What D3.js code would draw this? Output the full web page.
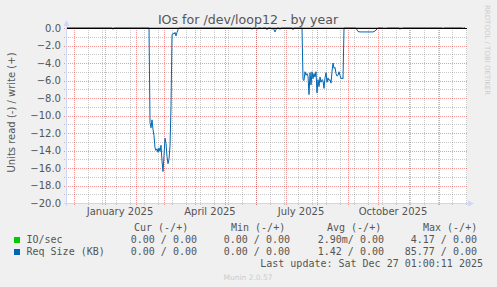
<!DOCTYPE html>
<html>
<head>
<meta charset="utf-8">
<script src="https://d3js.org/d3.v7.min.js"></script>
<style>
body{margin:0;background:#f0f0f0;}
svg{display:block;}
</style>
</head>
<body>
<svg id="chart" width="497" height="287"></svg>
<script>
// data (read side shown as negative)
const reqDates = ["2024-11-24","2025-01-08","2025-01-09","2025-01-10","2025-02-14","2025-02-15","2025-02-16","2025-02-17","2025-02-18","2025-02-19","2025-02-20","2025-02-21","2025-02-22","2025-02-23","2025-02-24","2025-02-25","2025-02-26","2025-02-27","2025-02-28","2025-03-01","2025-03-02","2025-03-03","2025-03-04","2025-03-05","2025-03-06","2025-03-07","2025-03-08","2025-03-09","2025-03-10","2025-03-11","2025-03-12","2025-03-13","2025-03-14","2025-03-15","2025-03-16",
"2025-05-27","2025-05-28","2025-05-29","2025-06-01","2025-06-02","2025-06-03","2025-06-06","2025-06-07","2025-06-08","2025-06-11","2025-06-12","2025-06-13","2025-06-16","2025-06-17","2025-06-18","2025-06-19","2025-06-20","2025-06-21","2025-06-22","2025-06-24","2025-06-25","2025-06-26","2025-07-07","2025-07-08","2025-07-09",
"2025-07-17","2025-07-18","2025-07-19","2025-07-20","2025-07-21","2025-07-22","2025-07-23","2025-07-24","2025-07-25","2025-07-26","2025-07-27","2025-07-28","2025-07-29","2025-07-30","2025-07-31","2025-08-01","2025-08-02","2025-08-03","2025-08-04","2025-08-05","2025-08-06","2025-08-07","2025-08-08","2025-08-09","2025-08-10","2025-08-11","2025-08-12","2025-08-13","2025-08-14","2025-08-15","2025-08-16","2025-08-17","2025-08-18","2025-08-19","2025-08-20","2025-08-21","2025-08-22","2025-08-23","2025-08-24","2025-08-25","2025-08-26","2025-08-27","2025-08-28",
"2025-09-09","2025-09-11","2025-09-13","2025-09-26","2025-09-28","2025-10-01","2025-10-06","2025-10-07","2025-10-08","2025-10-09","2025-10-10","2025-10-22","2025-10-23","2025-10-24","2025-10-25","2025-10-26","2025-12-04","2025-12-05","2025-12-06","2025-12-24","2025-12-25","2025-12-26","2025-12-27"];
const reqRead = [0,0,-0.15,0,0,-10.8,-11.4,-10.5,-11.6,-12.3,-13.7,-14.0,-13.8,-14.2,-13.7,-14.1,-13.4,-15.2,-16.4,-14.6,-12.6,-13.2,-14.7,-15.5,-15.0,-13.5,-9.0,-0.8,-0.6,-0.7,-0.5,-0.9,-0.5,-0.2,0,
0,-0.15,0,0,-0.15,0,0,-0.1,0,0,-0.2,0,0,-0.15,0,-0.2,-0.45,-0.2,0,0,-0.15,0,0,-0.2,0,
0,-5.9,-6.0,-5.0,-5.4,-5.2,-5.5,-7.6,-5.1,-6.5,-5.0,-5.8,-5.2,-5.6,-5.0,-7.4,-5.9,-6.7,-5.6,-6.2,-5.9,-6.0,-6.9,-5.7,-5.1,-6.2,-5.7,-6.0,-5.9,-6.3,-5.0,-4.0,-4.6,-4.5,-5.2,-5.5,-5.4,-5.0,-5.4,-5.8,-5.7,-5.8,0,
0,-0.4,-0.45,-0.45,-0.35,0,0,-0.1,0,-0.1,0,0,-0.15,0,-0.1,0,0,-0.1,0,0,-0.1,0,0];
const ioDates = ["2024-11-24","2025-12-27"];
const ioRead = [0,0];

const yTicks = [0,-2,-4,-6,-8,-10,-12,-14,-16,-18,-20];
const xLabels = ["January 2025","April 2025","July 2025","October 2025"];
const xLabelDates = ["2025-01-16","2025-04-16","2025-07-16","2025-10-16"];

const seriesNames = ["IO/sec","Req Size (KB)"];
const seriesColors = ["#00cc00","#0066b3"];
const colHeaders = ["Cur (-/+)","Min (-/+)","Avg (-/+)","Max (-/+)"];
const curVals = ["0.00 / 0.00","0.00 / 0.00"];
const minVals = ["0.00 / 0.00","0.00 / 0.00"];
const avgVals = ["2.90m/ 0.00","1.42 / 0.00"];
const maxVals = ["4.17 / 0.00","85.77 / 0.00"];

const parse = d3.timeParse("%Y-%m-%d");
const svg = d3.select("#chart");
const L = 67, R = 467, T = 28, B = 203;
const font = "'DejaVu Sans', sans-serif";
const mono = "'DejaVu Sans Mono', monospace";

const x = d3.scaleTime().domain([parse("2024-11-24"), parse("2025-12-29")]).range([L, R]);
const y = d3.scaleLinear().domain([-20, 0]).range([B, T]);
const px = v => Math.round(v) + 0.5;

svg.append("rect").attr("width",497).attr("height",287).attr("fill","#f0f0f0");
svg.append("rect").attr("x",L).attr("y",T).attr("width",R-L).attr("height",B-T).attr("fill","#fff");

// grid
const g = svg.append("g");
const minorY = d3.range(-19, 0, 2);
g.selectAll(".ymin").data(minorY).join("line")
  .attr("x1",L-3).attr("x2",R).attr("y1",d=>px(y(d))).attr("y2",d=>px(y(d)))
  .attr("stroke","rgba(120,120,120,0.4)").attr("stroke-dasharray","1,1");
const minorX = d3.timeWeek.range(parse("2024-12-15"), parse("2025-12-29"), 2);
g.selectAll(".xmin").data(minorX).join("line")
  .attr("x1",d=>px(x(d))).attr("x2",d=>px(x(d))).attr("y1",T).attr("y2",B+3)
  .attr("stroke","rgba(120,120,120,0.4)").attr("stroke-dasharray","1,1");
g.selectAll(".ymaj").data(yTicks).join("line")
  .attr("x1",L-3).attr("x2",R).attr("y1",d=>px(y(d))).attr("y2",d=>px(y(d)))
  .attr("stroke","rgba(230,0,0,0.4)").attr("stroke-dasharray","1,1");
const majorX = d3.timeMonth.range(parse("2024-11-25"), parse("2025-12-29"));
g.selectAll(".xmaj").data(majorX).join("line")
  .attr("x1",d=>px(x(d))).attr("x2",d=>px(x(d))).attr("y1",T).attr("y2",B+3)
  .attr("stroke","rgba(230,0,0,0.4)").attr("stroke-dasharray","1,1");

// axis lines and arrows
const axc = "#cfd6f8";
svg.append("line").attr("x1",L-0.5).attr("x2",L-0.5).attr("y1",B+3).attr("y2",T-4)
  .attr("stroke",axc);
svg.append("line").attr("x1",L-3).attr("x2",R+3).attr("y1",px(B)).attr("y2",px(B)).attr("stroke",axc);
svg.append("path").attr("d",`M${L-3.5},${T-2}L${L-0.5},${T-8}L${L+2.5},${T-2}Z`).attr("fill",axc);
svg.append("path").attr("d",`M${R+1},${px(B)-3}L${R+7},${px(B)}L${R+1},${px(B)+3}Z`).attr("fill",axc);

// tick labels
svg.append("g").selectAll("text").data(yTicks).join("text")
  .attr("x",61).attr("y",d=>y(d)+3.6).attr("text-anchor","end")
  .attr("font-family",font).attr("font-size",10).attr("fill","#555")
  .text(d=>d3.format(".1f")(d));
svg.append("g").selectAll("text").data(xLabels).join("text")
  .attr("x",(d,i)=>x(parse(xLabelDates[i]))).attr("y",214.5).attr("text-anchor","middle")
  .attr("font-family",font).attr("font-size",10).attr("fill","#555")
  .text(d=>d);

// series
const line = d3.line().x(d=>x(d[0])).y(d=>y(d[1]));
svg.append("path").datum(ioDates.map((d,i)=>[parse(d),ioRead[i]]))
  .attr("d",line).attr("fill","none").attr("stroke",seriesColors[0]).attr("stroke-width",1);
svg.append("path").datum(reqDates.map((d,i)=>[parse(d),reqRead[i]]))
  .attr("d",line).attr("fill","none").attr("stroke",seriesColors[1]).attr("stroke-width",1);
svg.append("line").attr("x1",L).attr("x2",R).attr("y1",px(y(0))).attr("y2",px(y(0)))
  .attr("stroke","#000");

// titles
svg.append("text").attr("x",248).attr("y",23.5).attr("text-anchor","middle")
  .attr("font-family",font).attr("font-size",12.6).attr("fill","#555")
  .text("IOs for /dev/loop12 - by year");
svg.append("text").attr("transform","translate(14.5,112.5) rotate(-90)").attr("text-anchor","middle")
  .attr("font-family",font).attr("font-size",10).attr("fill","#555")
  .text("Units read (-) / write (+)");
svg.append("text").attr("transform","translate(485,5) rotate(90)")
  .attr("font-family",font).attr("font-size",7).attr("fill","#ccc")
  .text("RRDTOOL / TOBI OETIKER");

// legend
const lg = svg.append("g").attr("font-family",mono).attr("font-size",10).attr("fill","#555");
const headX = [134, 231, 327, 423];
lg.selectAll(".h").data(colHeaders).join("text")
  .attr("x",(d,i)=>headX[i]).attr("y",230.5).text(d=>d);
const valRight = [197, 290, 384, 477];
const cols = [curVals, minVals, avgVals, maxVals];
seriesNames.forEach((name,i)=>{
  const yy = 242.5 + i*12;
  lg.append("rect").attr("x",14).attr("y",yy-5.5).attr("width",6).attr("height",6).attr("fill",seriesColors[i]);
  lg.append("text").attr("x",26.5).attr("y",yy).text(name);
  cols.forEach((c,j)=>{
    lg.append("text").attr("x",valRight[j]).attr("y",yy).attr("text-anchor","end").text(c[i]);
  });
});
lg.append("text").attr("x",483).attr("y",266.5).attr("text-anchor","end")
  .text("Last update: Sat Dec 27 01:00:11 2025");
svg.append("text").attr("x",248).attr("y",279.5).attr("text-anchor","middle")
  .attr("font-family",font).attr("font-size",7.5).attr("fill","#ccc")
  .text("Munin 2.0.57");
</script>
</body>
</html>
